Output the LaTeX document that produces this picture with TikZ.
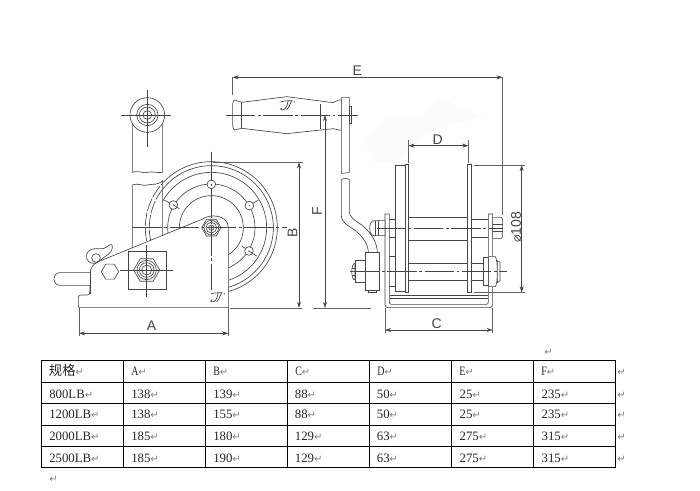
\documentclass[tikz,border=0pt]{standalone}
\usepackage{fontspec}
\usepackage{xcolor}
\usepackage{graphicx}
\usetikzlibrary{arrows.meta,shapes.geometric}
\setmainfont{Liberation Serif}
\newfontfamily\labfont{Liberation Sans}
\newfontfamily\symfont{DejaVu Sans}
\newfontfamily\cjkfont{Noto Sans CJK SC}
\definecolor{ink}{HTML}{454545}
\definecolor{wmark}{HTML}{FBFBFB}
\newcommand\retmark{{\color{gray}\symfont\fontsize{7.5}{8}\selectfont ↵}}
\newcommand\hdrletter[1]{\scalebox{0.78}[1]{#1}}
\tikzset{
  part/.style={draw=ink,line width=0.48pt},
  partw/.style={part,fill=white},
  axisline/.style={draw=ink,line width=0.4pt,dash pattern=on 22pt off 2pt on 2pt off 2pt},
  cross/.style={draw=ink,line width=0.4pt},
  extline/.style={draw=ink!85,line width=0.45pt},
  dimline/.style={draw=ink,line width=0.45pt,{Stealth[length=4.6pt,width=3pt]}-{Stealth[length=4.6pt,width=3pt]}},
  dimlabel/.style={font=\labfont\fontsize{10.5}{11}\selectfont,text=ink,inner sep=0pt},
  hexnut/.style={regular polygon,regular polygon sides=6,partw,inner sep=0pt},
  cell/.style={anchor=base west,inner sep=0pt,font=\fontsize{9.6}{10}\selectfont,text=black!85},
  retnode/.style={anchor=base west,inner sep=0pt},
  logo/.pic={
    \draw[draw=ink,line width=0.5pt] (-18,-12) .. controls (-5,-17) and (8,-15) .. (18,-16)
      (4,-14) .. controls (2,-2) and (-2,12) .. (-14,12) .. controls (-20,12) and (-20,6) .. (-14,6)
      (14,-14) .. controls (10,-4) and (6,6) .. (0,12)
      (22,-14) -- (24,-11);
  }
}
\begin{document}
\begin{tikzpicture}[x=0.25pt,y=-0.25pt]
\useasboundingbox (0,0) rectangle (2100,1473);
\fill[white] (0,0) rectangle (2100,1473);

%% ============ LEFT VIEW ============
\begin{scope}[shift={(120,270)}]
  \begin{scope}
    \clip (368,150) rectangle (800,700);
    \foreach \rr in {198,186,166,131,96}
      \draw[part] (514,413) circle[radius=\rr];
  \end{scope}
  \begin{scope}
    \clip (300,260) rectangle (368,458);
    \draw[part,dash pattern=on 10pt off 1.2pt] (514,413) circle[radius=198];
    \draw[part,dash pattern=on 10pt off 1.2pt] (514,413) circle[radius=186];
  \end{scope}
  \foreach \bx/\by/\tx/\ty in {514/283/514/262, 400/345/372/330, 628/347/655/330, 627/483/605/468}{
    \draw[part] (\tx,\ty) -- (\bx,\by);
    \draw[partw] (\bx,\by) circle[radius=13];
    \fill[ink] (\bx,\by) circle[radius=1.8];
  }
  \draw[part] (627,483) -- (650,498);
  \draw[part] (400,345) -- (418,356);
  \draw[partw] (277,75) -- (277,247) .. controls (300,240) and (310,252) .. (322,247)
     .. controls (340,243) and (350,250) .. (368,247) -- (368,75);
  \draw[part] (277,485) -- (277,285) .. controls (300,278) and (310,290) .. (322,285)
     .. controls (340,280) and (350,288) .. (368,272) -- (368,485);
  \draw[partw] (322,75) circle[radius=52];
  \draw[part] (322,75) circle[radius=32];
  \draw[part] (322,75) circle[radius=24];
  \draw[part] (322,75) circle[radius=13];
  \coordinate (tx1) at (243,75); \coordinate (tx2) at (392,75);
  \coordinate (ty1) at (322,0);  \coordinate (ty2) at (322,170);
  \draw[cross] (tx1) -- (tx2);
  \draw[cross] (ty1) -- (ty2);
  \draw[partw] (118,652) .. controls (115,652) and (115,650) .. (115,646) -- (115,622)
    .. controls (115,616) and (118,615) .. (124,615) -- (142,615)
    .. controls (148,615) and (150,610) .. (150,602) -- (150,548)
    .. controls (152,535) and (158,522) .. (175,515)
    -- (488,387) .. controls (505,372) and (565,372) .. (565,413)
    -- (565,652) -- cycle;
  \draw[partw] (175,515) .. controls (160,525) and (145,520) .. (140,505)
     .. controls (135,488) and (150,476) .. (165,476)
     .. controls (180,476) and (190,478) .. (198,472)
     .. controls (205,467) and (215,458) .. (217,468)
     .. controls (218,480) and (212,490) .. (195,500) -- cycle;
  \draw[part] (168,504) circle[radius=13];
  \draw[partw] (150,548) -- (60,548) .. controls (36,548) and (36,586) .. (60,586) -- (150,586);
  \draw[part] (150,540) -- (150,612);
  \draw[partw] (265,485) rectangle (379,598);
  \node[hexnut,minimum size=13pt] (smallhex) at (210,545) {};
  \coordinate (cx1) at (240,540); \coordinate (cx2) at (398,540);
  \coordinate (cy1) at (320,465); \coordinate (cy2) at (320,622);
  \node[hexnut,minimum size=19.5pt] (bignut) at (320,540) {};
  \draw[part] (320,540) circle[radius=29];
  \draw[part] (320,540) circle[radius=22];
  \draw[part] (320,540) circle[radius=15];
  \draw[cross] (cx1) -- (cx2);
  \draw[cross] (cy1) -- (cy2);
  \node[hexnut,minimum size=14.5pt] (axlenut) at (514,413) {};
  \draw[part] (514,413) circle[radius=22];
  \draw[part] (514,413) circle[radius=16];
  \draw[part] (514,413) circle[radius=8];
  \coordinate (ax1) at (277,413); \coordinate (ax2) at (740,413);
  \coordinate (ay1) at (514,185); \coordinate (ay2) at (514,600);
  \draw[axisline] (ax1) -- (ax2);
  \draw[axisline] (ay1) -- (ay2);
  \pic at (530,624) {logo};
  \coordinate (a1) at (117,730); \coordinate (a2) at (565,730);
  \coordinate (a1e) at (117,652); \coordinate (a2e) at (565,652);
  \coordinate (a1f) at (117,738); \coordinate (a2f) at (565,738);
  \draw[extline] (a1e) -- (a1f);
  \draw[extline] (a2e) -- (a2f);
  \draw[dimline] (a1) -- (a2);
  \node[dimlabel] (labA) at (335,708) {A};
\end{scope}

%% ============ RIGHT VIEW ============
\begin{scope}[shift={(660,180)}]
  \fill[wmark] (432,240) -- (500,170) -- (600,170) -- (660,112) -- (700,130) -- (785,170)
     -- (700,192) -- (600,232) -- (540,300) -- (470,310) -- cycle;
  \draw[partw] (65,127) .. controls (56,127) and (50,120) .. (44,120)
     .. controls (36,122) and (38,140) .. (38,165)
     .. controls (38,190) and (36,208) .. (44,210)
     .. controls (50,210) and (56,205) .. (65,205)
     -- (200,221) -- (340,206) .. controls (348,206) and (352,212) .. (364,210)
     -- (364,120) .. controls (352,118) and (348,126) .. (340,128)
     -- (200,110) -- cycle;
  \draw[part] (65,127) -- (65,205);
  \draw[part] (302,131) -- (302,207);
  \pic at (200,138) {logo};
  \draw[partw] (364,113) -- (388,113) -- (388,338) .. controls (380,342) and (372,336) .. (364,340) -- cycle;
  \draw[partw] (388,140) rectangle (395,190);
  \draw[partw] (364,358) -- (364,465) .. controls (364,490) and (385,495) .. (410,515)
    .. controls (430,532) and (445,555) .. (445,578) -- (472,578)
    .. controls (472,545) and (450,515) .. (425,495)
    .. controls (400,478) and (388,470) .. (388,455) -- (388,358)
    .. controls (380,352) and (372,356) .. (364,358);
  \draw[partw] (405,600) rectangle (437,668);
  \draw[partw] (405,610) .. controls (392,610) and (392,660) .. (405,660) -- cycle;
  \draw[part] (397,625) -- (405,625) (397,645) -- (405,645);
  \draw[partw] (437,578) rectangle (477,690);
  \draw[partw] (445,690) rectangle (470,697);
  \draw[partw] (495,462) -- (495,733) .. controls (495,740) and (498,743) .. (505,743)
     -- (808,743) .. controls (815,743) and (818,740) .. (818,733) -- (818,462)
     -- (805,462) -- (805,725) .. controls (805,731) and (803,733) .. (798,733)
     -- (515,733) .. controls (510,733) and (508,731) .. (508,725) -- (508,462) -- cycle;
  \draw[part] (510,707) -- (805,707);
  \draw[part] (510,715) -- (805,715);
  \draw[part] (565,472) -- (743,472) (565,540) -- (743,540);
  \draw[part] (755,477) -- (805,477) (755,533) -- (805,533);
  \draw[part] (508,478) -- (527,478) (508,532) -- (527,532);
  \draw[part] (508,590) -- (527,590) (508,680) -- (527,680);
  \draw[part] (565,610) -- (743,610) (565,660) -- (743,660);
  \draw[part] (755,610) -- (790,610) (755,660) -- (790,660);
  \draw[partw] (527,317) rectangle (555,695);
  \draw[partw] (555,313) rectangle (565,698);
  \draw[partw] (743,313) rectangle (755,697);
  \draw[partw] (462,482) -- (495,482) -- (495,527) -- (462,527) .. controls (445,527) and (445,482) .. (462,482) -- cycle;
  \draw[part] (465,482) -- (465,527) (475,482) -- (475,527);
  \draw[partw] (818,472) -- (845,472) -- (848,480) -- (848,527) -- (845,535) -- (818,535) -- cycle;
  \draw[part] (818,493) -- (848,493) (818,514) -- (848,514);
  \draw[partw] (790,592) rectangle (806,675);
  \draw[partw] (806,590) -- (826,590) .. controls (834,600) and (834,670) .. (826,680) -- (806,680) -- cycle;
  \draw[partw] (832,602) -- (840,606) -- (840,662) -- (832,668) -- cycle;
  \coordinate (h1) at (18,165);  \coordinate (h2) at (415,165);
  \coordinate (u1) at (470,505); \coordinate (u2) at (850,505);
  \coordinate (l1) at (390,635); \coordinate (l2) at (860,635);
  \draw[axisline] (h1) -- (h2);
  \draw[axisline] (u1) -- (u2);
  \draw[axisline] (l1) -- (l2);
  \coordinate (e1) at (38,52); \coordinate (e2) at (848,52);
  \coordinate (e1b) at (38,105); \coordinate (e2b) at (848,465);
  \draw[extline] (e1) -- (e1b);
  \draw[extline] (e2) -- (e2b);
  \draw[dimline] (e1) -- (e2);
  \node[dimlabel] (labE) at (412,32) {E};
  \coordinate (d1) at (565,257); \coordinate (d2) at (745,257);
  \coordinate (d1t) at (565,240); \coordinate (d2t) at (745,240);
  \coordinate (d1b) at (565,308); \coordinate (d2b) at (745,308);
  \draw[extline] (d1t) -- (d1b);
  \draw[extline] (d2t) -- (d2b);
  \draw[dimline] (d1) -- (d2);
  \node[dimlabel] (labD) at (653,238) {D};
  \coordinate (p1) at (905,315); \coordinate (p2) at (905,697);
  \coordinate (p1a) at (762,315); \coordinate (p1b) at (915,315);
  \coordinate (p2a) at (762,697); \coordinate (p2b) at (915,697);
  \draw[extline] (p1a) -- (p1b);
  \draw[extline] (p2a) -- (p2b);
  \draw[dimline] (p1) -- (p2);
  \node[dimlabel,rotate=90] (labP) at (888,502) {{\symfont\fontsize{9.5}{11}\selectfont ⌀}108};
  \coordinate (c1) at (495,810); \coordinate (c2) at (818,810);
  \coordinate (c1t) at (495,745); \coordinate (c2t) at (818,745);
  \coordinate (c1b) at (495,818); \coordinate (c2b) at (818,818);
  \draw[extline] (c1t) -- (c1b);
  \draw[extline] (c2t) -- (c2b);
  \draw[dimline] (c1) -- (c2);
  \node[dimlabel] (labC) at (650,790) {C};
  \coordinate (f1) at (315,165); \coordinate (f2) at (315,744);
  \coordinate (f2a) at (280,744); \coordinate (f2b) at (452,744);
  \draw[extline] (f2a) -- (f2b);
  \draw[dimline] (f1) -- (f2);
  \node[dimlabel,rotate=90] (labF) at (291,455) {F};
  \coordinate (b1) at (237,307); \coordinate (b2) at (237,744);
  \coordinate (b1a) at (-20,307); \coordinate (b1b) at (250,307);
  \coordinate (b2a) at (30,744); \coordinate (b2b) at (245,744);
  \draw[extline] (b1a) -- (b1b);
  \draw[extline] (b2a) -- (b2b);
  \draw[dimline] (b1) -- (b2);
  \node[dimlabel,rotate=90] (labB) at (218,520) {B};
\end{scope}

%% ============ TABLE ============
\foreach \ty in {1081,1147,1210,1276,1340,1402}
  \draw[black,line width=0.75pt] (124,\ty) -- (1847,\ty);
\foreach \tx in {124,371,617,863,1108,1354,1600,1847}
  \draw[black,line width=0.75pt] (\tx,1081) -- (\tx,1402);

\node[anchor=base west,inner sep=0pt,font=\cjkfont\fontsize{10}{12}\selectfont,text=black!85] (hs) at (146,1126) {规格\retmark};
\node[cell] (hA) at (393,1127) {\hdrletter{A}\retmark};
\node[cell] (hB) at (639,1127) {\hdrletter{B}\retmark};
\node[cell] (hC) at (885,1127) {\hdrletter{C}\retmark};
\node[cell] (hD) at (1131,1127) {\hdrletter{D}\retmark};
\node[cell] (hE) at (1377,1127) {\hdrletter{E}\retmark};
\node[cell] (hF) at (1623,1127) {\hdrletter{F}\retmark};

\foreach \by/\rw/\sz/\va/\vb/\vc/\vd/\ve/\vf in {
  1195/1/800LB/138/139/88/50/25/235,
  1257/2/1200LB/138/155/88/50/25/235,
  1323/3/2000LB/185/180/129/63/275/315,
  1387/4/2500LB/185/190/129/63/275/315}{
  \node[cell] (s\rw) at (147,\by) {\sz\retmark};
  \node[cell] (a\rw) at (393,\by) {\va\retmark};
  \node[cell] (b\rw) at (639,\by) {\vb\retmark};
  \node[cell] (c\rw) at (884,\by) {\vc\retmark};
  \node[cell] (d\rw) at (1130,\by) {\vd\retmark};
  \node[cell] (e\rw) at (1378,\by) {\ve\retmark};
  \node[cell] (f\rw) at (1624,\by) {\vf\retmark};
}
\foreach \by in {1127,1195,1257,1323,1387}
  \node[retnode] at (1851,\by) {\retmark};
\node[retnode] (topret) at (1632,1067) {\retmark};
\node[retnode] (botret) at (147,1447) {\retmark};
\end{tikzpicture}
\end{document}
